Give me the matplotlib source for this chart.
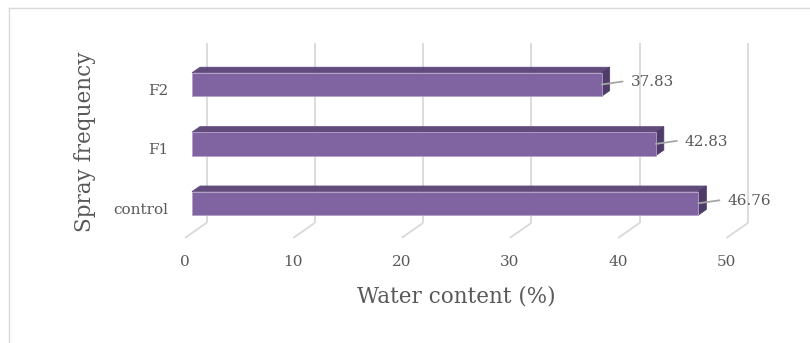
import matplotlib
matplotlib.use("Agg")
import matplotlib.pyplot as plt
from matplotlib.patches import Polygon
from matplotlib.lines import Line2D

# ---- data ----
categories = ["control", "F1", "F2"]
values = [46.76, 42.83, 37.83]
xticks = [0, 10, 20, 30, 40, 50]
value_labels = ["46.76", "42.83", "37.83"]
xlabel = "Water content (%)"
ylabel = "Spray frequency"

# ---- styling ----
W, H, DPI = 810, 343, 100
FONT = "DejaVu Serif"
TXT = "#595959"
FRONT = "#8064A2"
TOP = "#614B7D"
SIDE = "#4F3B68"
GRID = "#d9d9d9"
LEADER = "#a6a6a6"

fig = plt.figure(figsize=(W / DPI, H / DPI), dpi=DPI)
ax_l, ax_r, ax_t, ax_b = 192, 733.5, 54.8, 233
ax = fig.add_axes([ax_l / W, 1 - ax_b / H, (ax_r - ax_l) / W, (ax_b - ax_t) / H])
ax.set_xlim(0, 50)
ax.set_ylim(-0.5, 2.5)
ax.axis("off")

PXX = (ax_r - ax_l) / 50.0   # px per x unit
PXY = (ax_b - ax_t) / 3.0    # px per category
DEP_X, DEP_Y = 21.5, 15.0    # depth vector (px)
ZB = 7.0 / DEP_X             # bar front depth
ZB2 = 15.0 / DEP_X           # bar back depth
BH = 23.5 / PXY              # bar height (category units)


def proj(x, y, z):
    dz = z - ZB
    return (x + dz * DEP_X / PXX, y + dz * DEP_Y / PXY)


def px(p):
    return p * 72.0 / DPI


# gridlines (back wall + floor)
for t in xticks:
    b0 = proj(t, -0.5, 1)
    b1 = proj(t, 2.53, 1)
    f0 = proj(t, -0.5, 0)
    ax.add_line(Line2D([b0[0], b1[0]], [b0[1], b1[1]], color=GRID, lw=1.3,
                       clip_on=False, zorder=1, solid_capstyle="butt"))
    ax.add_line(Line2D([b0[0], f0[0]], [b0[1], f0[1]], color=GRID, lw=1.3,
                       clip_on=False, zorder=1, solid_capstyle="butt"))
    ax.annotate(str(t), xy=f0, xytext=(0, px(-24)), textcoords="offset points",
                ha="center", va="center", fontsize=11, color=TXT, family=FONT,
                annotation_clip=False)

# bars
for i, (cat, v, lab) in enumerate(zip(categories, values, value_labels)):
    y0, y1 = i - BH / 2, i + BH / 2
    front = [proj(0, y0, ZB), proj(v, y0, ZB), proj(v, y1, ZB), proj(0, y1, ZB)]
    top = [proj(0, y1, ZB), proj(v, y1, ZB), proj(v, y1, ZB2), proj(0, y1, ZB2)]
    side = [proj(v, y0, ZB), proj(v, y0, ZB2), proj(v, y1, ZB2), proj(v, y1, ZB)]
    ax.add_patch(Polygon(top, closed=True, facecolor=TOP, edgecolor=TOP, lw=0.5,
                         clip_on=False, zorder=3))
    ax.add_patch(Polygon(side, closed=True, facecolor=SIDE, edgecolor=SIDE, lw=0.5,
                         clip_on=False, zorder=3))
    ax.add_patch(Polygon(front, closed=True, facecolor=FRONT, edgecolor="#b3a2c9",
                         lw=0.6, clip_on=False, zorder=4))
    # leader + value label
    ax.annotate("", xy=(v, i), xytext=(px(21), px(3)), textcoords="offset points",
                arrowprops=dict(arrowstyle="-", color=LEADER, lw=1.3,
                                shrinkA=0, shrinkB=0),
                annotation_clip=False, zorder=5)
    ax.annotate(lab, xy=(v, i), xytext=(px(29), px(2)), textcoords="offset points",
                ha="left", va="center", fontsize=11, color=TXT, family=FONT,
                annotation_clip=False, zorder=5)
    # category label
    ax.annotate(cat, xy=(0, i), xytext=(px(-24), px(-6.5)), textcoords="offset points",
                ha="right", va="center", fontsize=11, color=TXT, family=FONT,
                annotation_clip=False)

# axis titles
fig.text(456 / W, 1 - 297 / H, xlabel, ha="center", va="center", fontsize=15.5,
         color=TXT, family=FONT)
fig.text(85 / W, 1 - 142 / H, ylabel, ha="center", va="center", fontsize=15.5,
         color=TXT, family=FONT, rotation=90)

# chart border (top and left visible)
fig.add_artist(Line2D([9 / W, 1], [1 - 8 / H, 1 - 8 / H], transform=fig.transFigure,
                      color=GRID, lw=1.0))
fig.add_artist(Line2D([9 / W, 9 / W], [0, 1 - 8 / H], transform=fig.transFigure,
                      color=GRID, lw=1.0))

fig.savefig("out.png", dpi=DPI)
